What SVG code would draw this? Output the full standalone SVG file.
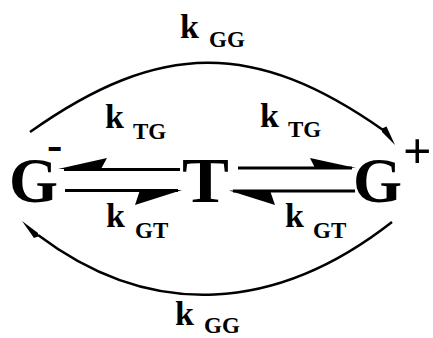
<svg xmlns="http://www.w3.org/2000/svg" width="433" height="338" viewBox="0 0 433 338">
<style>
  text { font-family: "Liberation Serif", "Times New Roman", serif; font-weight: bold; fill: #000; }
  .big { font-size: 63px; }
  .k { font-size: 34px; }
  .sub { font-size: 23px; }
  .ln { stroke: #000; stroke-width: 3; fill: none; }
  .arc { stroke: #000; stroke-width: 2.5; fill: none; }
  .hd { fill: #000; stroke: none; }
</style>
<rect width="433" height="338" fill="#fff"/>
<g id="connectors">
  <path class="arc" d="M30,132 C160,40 255,40 383,130"/>
  <polygon class="hd" points="395,145 382,132 382,128.5 386.5,126.5"/>
  <path class="arc" d="M392,222 C277,312 152,321 38,235"/>
  <polygon class="hd" points="22,221 38,233 38,236.5 34,238"/>
  <line class="ln" x1="64" y1="169.5" x2="180" y2="169.5"/>
  <polygon class="hd" points="58,169 107,158 101,169"/>
  <line class="ln" x1="65" y1="190.5" x2="178" y2="190.5"/>
  <polygon class="hd" points="182,190 135,205 140,190"/>
  <line class="ln" x1="238" y1="168" x2="352" y2="168"/>
  <polygon class="hd" points="356,168 310,158 315,168"/>
  <line class="ln" x1="233" y1="191" x2="355" y2="191"/>
  <polygon class="hd" points="229,190.5 275,205 270,190.5"/>
</g>
<g id="node-Gminus">
  <text class="big" x="9" y="202">G</text>
  <text x="47" y="160" style="font-size:46px">-</text>
</g>
<g id="node-T">
  <text class="big" transform="translate(182,202) scale(1.1,1)" style="font-size:64px">T</text>
</g>
<g id="node-Gplus">
  <text class="big" x="353" y="202">G</text>
  <text x="403" y="168" style="font-size:50px">+</text>
</g>
<g id="labels">
  <text class="k" x="180" y="38">k</text>
  <text class="sub" x="209" y="47">GG</text>
  <text class="k" x="105" y="128">k</text>
  <text class="sub" x="133" y="139">TG</text>
  <text class="k" x="260" y="127">k</text>
  <text class="sub" x="288" y="137">TG</text>
  <text class="k" x="106" y="227">k</text>
  <text class="sub" x="135" y="238">GT</text>
  <text class="k" x="285" y="227">k</text>
  <text class="sub" x="313" y="238">GT</text>
  <text class="k" x="175" y="325">k</text>
  <text class="sub" x="204" y="333">GG</text>
</g>
</svg>
